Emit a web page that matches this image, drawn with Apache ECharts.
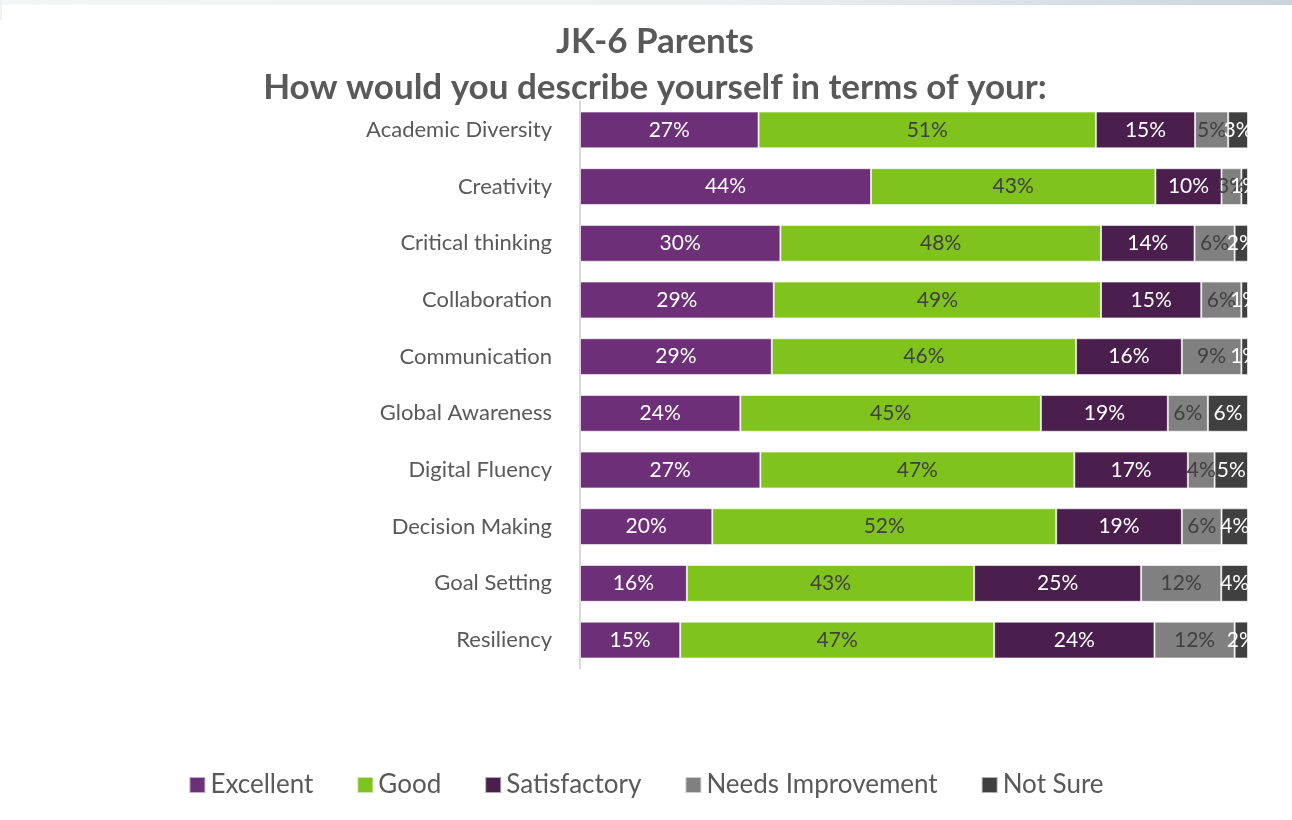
<!DOCTYPE html>
<html>
<head>
<meta charset="utf-8">
<script src="https://cdn.jsdelivr.net/npm/echarts@6/dist/echarts.min.js"></script>
<style>
  html, body { margin: 0; padding: 0; background: #ffffff; }
  #chart { width: 1292px; height: 820px; }
</style>
</head>
<body>
<div id="chart"></div>
<script>
// Survey skills, top to bottom as shown
const categories = [
  'Academic Diversity', 'Creativity', 'Critical thinking', 'Collaboration',
  'Communication', 'Global Awareness', 'Digital Fluency', 'Decision Making',
  'Goal Setting', 'Resiliency'
];
const seriesNames = ['Excellent', 'Good', 'Satisfactory', 'Needs Improvement', 'Not Sure'];

// Response shares (%) per skill
const excellent    = [27, 44, 30, 29, 29, 24, 27, 20, 16, 15];
const good         = [51, 43, 48, 49, 46, 45, 47, 52, 43, 47];
const satisfactory = [15, 10, 14, 15, 16, 19, 17, 19, 25, 24];
const needsImprove = [5, 3, 6, 6, 9, 6, 4, 6, 12, 12];
const notSure      = [3, 1, 2, 1, 1, 6, 5, 4, 4, 2];

const colors = ['#6D2F77', '#7FC31C', '#4A1F4E', '#808080', '#404040'];
const labelColors = ['#ffffff', '#404040', '#ffffff', '#404040', '#ffffff'];
const font = 'Lato, "Open Sans", sans-serif';

const rows = [excellent, good, satisfactory, needsImprove, notSure];
// each bar is a 100% stack: scale every row by its own total
const totals = categories.map((_, i) => rows.reduce((s, r) => s + r[i], 0));

const series = rows.map((vals, k) => ({
  name: seriesNames[k],
  type: 'bar',
  stack: 'total',
  barWidth: '65%',
  data: vals.map((v, i) => ({ value: v / totals[i] * 100, raw: v })),
  itemStyle: { color: colors[k], borderColor: 'rgba(255,255,255,0.6)', borderWidth: 1 },
  label: {
    show: true,
    position: 'inside',
    color: labelColors[k],
    fontFamily: font,
    fontSize: 21,
    formatter: p => p.data.raw + '%'
  },
  emphasis: { disabled: true }
}));

const chart = echarts.init(document.getElementById('chart'), null, { renderer: 'canvas' });
chart.setOption({
  animation: false,
  backgroundColor: '#ffffff',
  title: {
    text: 'JK-6 Parents\nHow would you describe yourself in terms of your:',
    left: 650,
    textAlign: 'center',
    top: 14,
    textStyle: {
      fontFamily: font,
      fontWeight: 'bold',
      fontSize: 35,
      color: '#595959',
      lineHeight: 46
    }
  },
  graphic: [
    {
      type: 'rect',
      shape: { x: 0, y: 0, width: 1292, height: 5 },
      style: {
        fill: new echarts.graphic.LinearGradient(0, 0, 1, 0, [
          { offset: 0, color: '#f4f5f7' },
          { offset: 0.55, color: '#eef0f2' },
          { offset: 1, color: '#c9d5dd' }
        ])
      },
      silent: true
    },
    {
      type: 'rect',
      shape: { x: 0, y: 0, width: 2, height: 20 },
      style: { fill: '#f0f1f3' },
      silent: true
    }
  ],
  legend: {
    data: seriesNames,
    bottom: 17,
    left: 'center',
    itemWidth: 16,
    itemHeight: 16,
    itemGap: 43,
    icon: 'rect',
    textStyle: { fontFamily: font, fontSize: 26, color: '#595959' }
  },
  grid: { left: 580, right: 44, top: 101.6, bottom: 151.6 },
  xAxis: {
    type: 'value',
    min: 0,
    max: 100,
    show: false
  },
  yAxis: {
    type: 'category',
    data: categories,
    inverse: true,
    axisLine: { show: true, lineStyle: { color: '#d9d9d9', width: 2 } },
    axisTick: { show: false },
    axisLabel: { fontFamily: font, fontSize: 22, color: '#595959', margin: 28 }
  },
  series: series
});
</script>
</body>
</html>
